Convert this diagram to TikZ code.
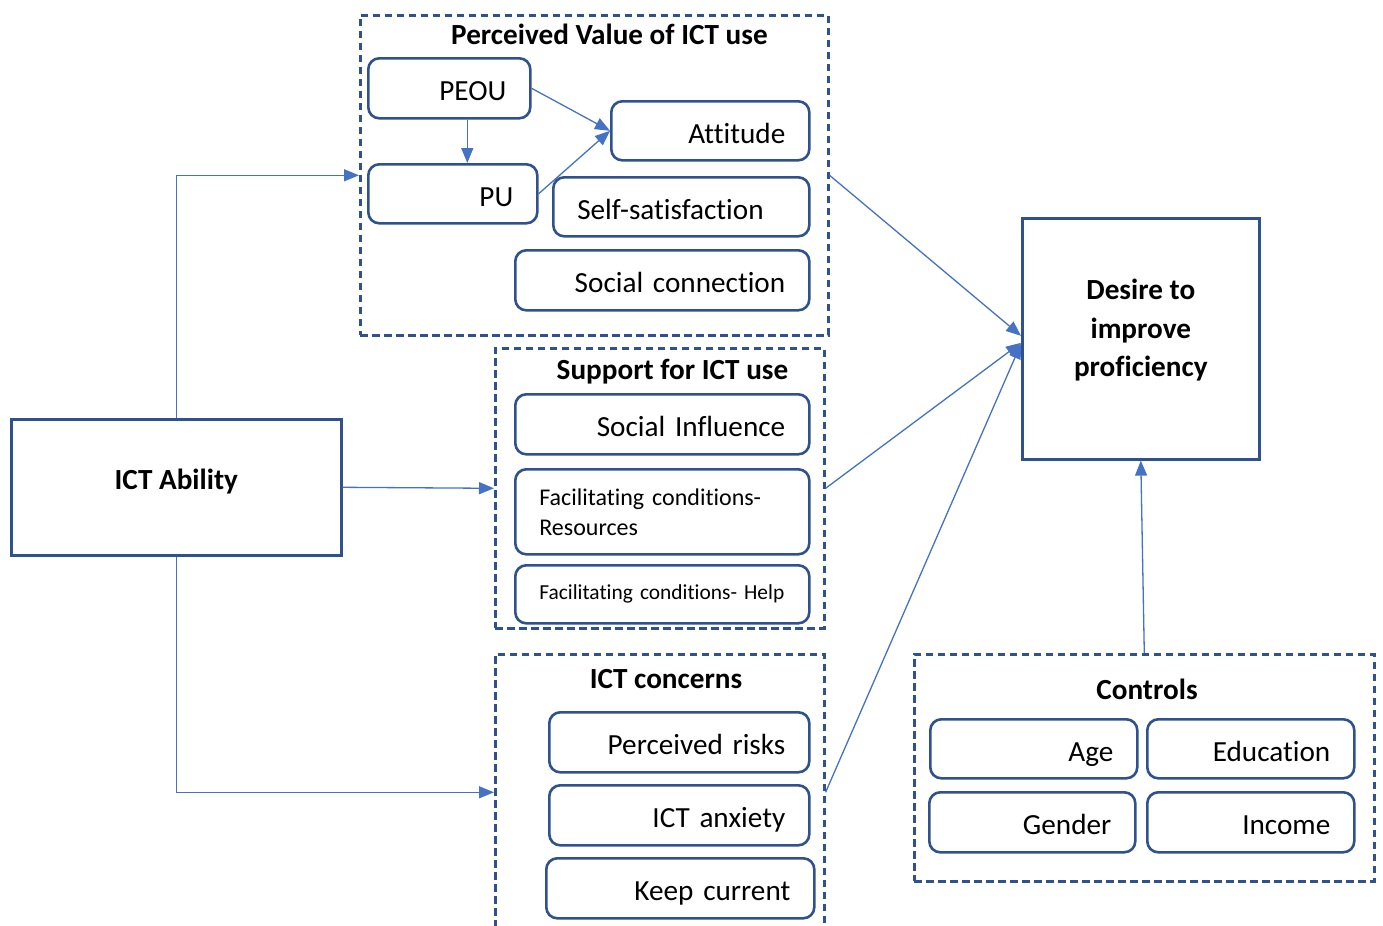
\documentclass[tikz,border=0pt]{standalone}
\usepackage{fontspec}
\setmainfont{Carlito}[Ligatures=NoCommon]
\usetikzlibrary{arrows.meta}
\definecolor{boxc}{HTML}{2F528F}
\definecolor{linec}{HTML}{4472C4}
\newdimen\pxu \pxu=0.5pt
\newcommand\mkbox[7]{%
  \pgfmathsetmacro\mkw{(#4-48)*0.5}%
  \node[rbox,#6,text width=\mkw pt,minimum width=#4\pxu,minimum height=#5\pxu] (#1) at (#2,#3) {#7};}
\tikzset{
  rbox/.style={draw=boxc, line width=1.3pt, rounded corners=5.5pt, anchor=north west,
    inner xsep=12pt, inner ysep=0pt, font=\fontsize{14.6}{17.5}\selectfont},
  rone/.style={align=right, text height=12.5pt, text depth=0pt},
  lone/.style={align=left, text height=12.5pt, text depth=0pt},
  sq/.style={draw=boxc, line width=1.3pt, anchor=north west, inner sep=0pt},
  grp/.style={draw=boxc, dash pattern=on 3.6pt off 2.4pt, line width=1.3pt, anchor=north west, inner sep=0pt},
  title/.style={font=\bfseries\fontsize{14.6}{17.5}\selectfont, anchor=base, inner sep=0pt},
  conn/.style={draw=linec, line width=0.65pt, -{Triangle[length=7.5pt,width=6pt]}},
}
\begin{document}
\begin{tikzpicture}[x=0.5pt,y=-0.5pt]
\useasboundingbox (0,0) rectangle (1383,926);
\clip (0,0) rectangle (1383,926);
% groups
\node[grp, minimum width=468\pxu, minimum height=320\pxu] (pv) at (359,14) {};
\node[grp, minimum width=329\pxu, minimum height=280\pxu] (sup) at (494,347) {};
\node[grp, minimum width=329\pxu, minimum height=276\pxu] (con) at (494,653) {};
\node[grp, minimum width=460\pxu, minimum height=227\pxu] (ctl) at (913,653) {};
% titles
\node[title] (pvT) at (609.5,45) {Perceived Value of ICT use};
\node[title] (supT) at (672.5,379) {Support for ICT use};
\node[title] (conT) at (666,688) {ICT concerns};
\node[title] (ctlT) at (1147,699) {Controls};
% perceived value boxes
\mkbox{peou}{367}{57}{162}{60}{rone}{PEOU}
\mkbox{pu}{367}{163}{169}{59}{rone}{PU}
\mkbox{att}{610}{100}{198}{59}{rone}{Attitude}
\mkbox{ss}{552}{176}{256}{59}{lone}{Self-satisfaction}
\mkbox{sc}{514}{249}{294}{60}{rone}{Social connection}
% support boxes
\mkbox{si}{514}{393}{294}{60}{rone}{Social Influence}
\mkbox{fcr}{514}{468}{294}{85}{align=left, font=\fontsize{12}{15}\selectfont}{Facilitating conditions-\\Resources}
\mkbox{fch}{514}{564}{294}{58}{align=left, font=\fontsize{10.7}{13}\selectfont, text height=5.5pt, text depth=0pt}{Facilitating conditions- Help}
% concerns boxes
\mkbox{pr}{548}{711}{260}{60}{rone}{Perceived risks}
\mkbox{anx}{548}{784}{260}{60}{rone}{ICT anxiety}
\mkbox{kc}{545}{857}{268}{60}{rone}{Keep current}
% controls boxes
\mkbox{age}{929}{718}{207}{59}{rone}{Age}
\mkbox{edu}{1146}{718}{207}{59}{rone}{Education}
\mkbox{gen}{928}{791}{206}{60}{rone}{Gender}
\mkbox{inc}{1146}{791}{207}{60}{rone}{Income}
% main boxes
\node[sq, minimum width=330\pxu, minimum height=136\pxu, font=\bfseries\fontsize{14.6}{17.5}\selectfont, text height=2.3pt, text depth=0pt] (abil) at (10,418) {ICT Ability};
\node[sq, minimum width=237\pxu, minimum height=241\pxu] (des) at (1021,217) {};
\node[font=\bfseries\fontsize{14.6}{19.2}\selectfont, align=center, inner sep=0pt] (desT) at ([yshift=4.25pt]des.center) {Desire to\\improve\\proficiency};
% connectors
\draw[conn] (abil.north) |- (pv.west);
\draw[conn] (abil.east) -- (sup.west);
\draw[conn] (abil.south) |- (con.west);
\draw[conn] (peou.east) -- (att.west);
\draw[conn] (pu.east) -- (att.west);
\draw[conn] ([xshift=9pt]peou.south) -- ([xshift=9pt]peou.south |- pu.north);
\draw[conn] (pv.east) -- ([yshift=1.5pt]des.west);
\draw[conn] (sup.east) -- ([yshift=-2pt]des.west);
\draw[conn] (con.east) -- ([yshift=-2.5pt]des.west);
\draw[conn] (ctl.north) -- (des.south);
\end{tikzpicture}
\end{document}
